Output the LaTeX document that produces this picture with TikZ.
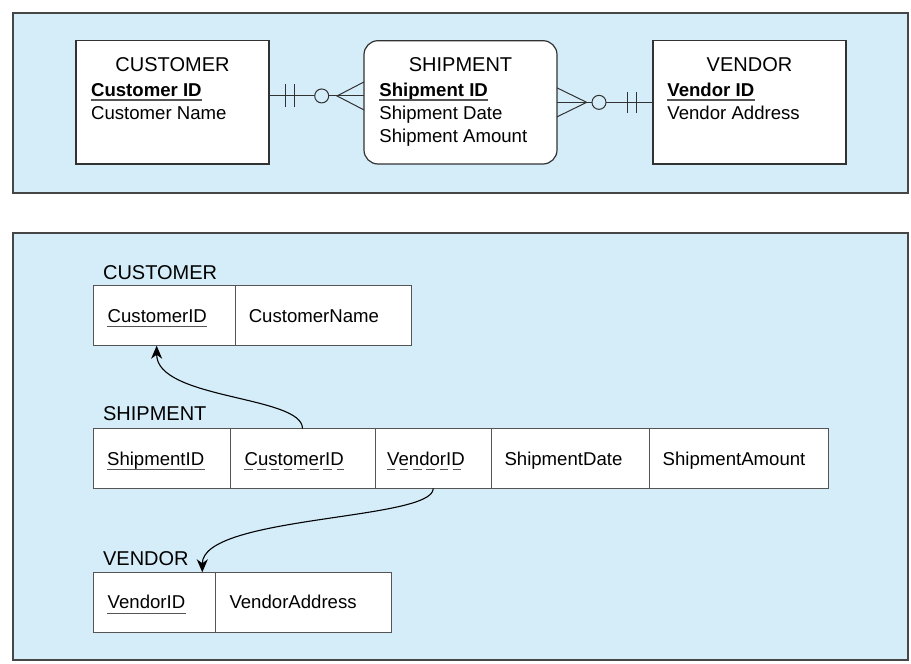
\documentclass[tikz,border=0pt]{standalone}
\usepackage{fontspec}
\setmainfont{Liberation Sans}
\usetikzlibrary{positioning,calc,arrows.meta}
\definecolor{panelblue}{RGB}{212,237,249}
\definecolor{boxline}{RGB}{50,50,50}
\definecolor{cellline}{RGB}{85,85,85}
\definecolor{panelline}{RGB}{70,70,70}
\begin{document}
\begin{tikzpicture}[x=0.5pt, y=-0.5pt,
    entity/.style = {draw=boxline, line width=0.6pt, fill=white,
      minimum width=96.5pt, minimum height=61.65pt, inner sep=0, outer sep=0},
    title/.style = {font=\fontsize{10}{12}\selectfont, inner sep=0, anchor=base},
    attr/.style = {font=\fontsize{9.3}{11}\selectfont, inner sep=0, anchor=base west},
    keyattr/.style = {attr, font=\fontsize{9.3}{11}\selectfont\bfseries},
    tablename/.style = {title, anchor=base west},
    cell/.style = {draw=cellline, line width=0.5pt, fill=white,
      minimum height=30pt, inner sep=0, outer sep=0, anchor=north west},
    uline/.style = {draw=cellline, line width=0.5pt},
    fk/.style = {uline, dash pattern=on 4.2pt off 2.4pt},
    erline/.style = {draw=boxline, line width=0.5pt},
    link/.style = {line width=0.55pt, -{Stealth[length=6.5pt,width=5.5pt,inset=2pt]}}]
  \useasboundingbox (0,0) rectangle (911,664);
  % panels
  \draw[panelline, line width=1pt, fill=panelblue] (12.7,12.7) rectangle (908.4,192.7);
  \draw[panelline, line width=1pt, fill=panelblue] (12.7,232.7) rectangle (908.4,660);

  % E-R diagram
  \node[entity] (cust) at (172.5,102.35) {};
  \node[entity, rounded corners=7pt, right=47.5pt of cust] (ship) {};
  \node[entity, right=48pt of ship] (vend) {};

  \node[title] (cust-t) at ([yshift=-15.3pt]cust.north) {CUSTOMER};
  \node[keyattr] (cust-k) at ([xshift=7.35pt,yshift=-27.65pt]cust.north west) {Customer ID};
  \node[attr] (cust-a1) at ([xshift=7.35pt,yshift=-39.15pt]cust.north west) {Customer Name};

  \node[title] (ship-t) at ([yshift=-15.3pt]ship.north) {SHIPMENT};
  \node[keyattr] (ship-k) at ([xshift=7.5pt,yshift=-27.65pt]ship.north west) {Shipment ID};
  \node[attr] (ship-a1) at ([xshift=7.5pt,yshift=-39.15pt]ship.north west) {Shipment Date};
  \node[attr] (ship-a2) at ([xshift=7.5pt,yshift=-50.65pt]ship.north west) {Shipment Amount};

  \node[title] (vend-t) at ([yshift=-15.3pt]vend.north) {VENDOR};
  \node[keyattr] (vend-k) at ([xshift=7pt,yshift=-27.65pt]vend.north west) {Vendor ID};
  \node[attr] (vend-a1) at ([xshift=7pt,yshift=-39.15pt]vend.north west) {Vendor Address};

  \foreach \k in {cust-k,ship-k,vend-k}
    \draw[uline, line width=0.65pt] ([yshift=-2pt]\k.base west) -- ([yshift=-2pt]\k.base east);

  % customer -- shipment
  \coordinate (ca) at ([yshift=3.2pt]cust.east);
  \coordinate (sa) at (ship.west |- ca);
  \draw[erline] (ca) -- (sa);
  \draw[erline] ($(ca)+(16,-11.5)$) -- ($(ca)+(16,11.5)$);
  \draw[erline] ($(ca)+(25,-11.5)$) -- ($(ca)+(25,11.5)$);
  \draw[erline, fill=panelblue] ($(sa)+(-42.3,0)$) circle[radius=3.5pt];
  \draw[erline] ($(sa)+(0,-14)$) -- ($(sa)+(-27,0)$) -- ($(sa)+(0,14)$);

  % shipment -- vendor
  \coordinate (sb) at (ship.east);
  \coordinate (vb) at (vend.west);
  \draw[erline] (sb) -- (vb);
  \draw[erline] ($(sb)+(0,-14.5)$) -- ($(sb)+(29.7,0)$) -- ($(sb)+(0,14.5)$);
  \draw[erline, fill=panelblue] ($(sb)+(42,0)$) circle[radius=3.5pt];
  \draw[erline] ($(vb)+(-25.3,-10.5)$) -- ($(vb)+(-25.3,10.5)$);
  \draw[erline] ($(vb)+(-16.3,-10.5)$) -- ($(vb)+(-16.3,10.5)$);

  % relations
  \node[cell, minimum width=70.85pt] (t-custid) at (93.3,285.7) {};
  \node[cell, minimum width=88pt, right=0pt of t-custid] (t-custname) {};
  \node[tablename] (n-cust) at ([xshift=4.7pt,yshift=3.3pt]t-custid.north west) {CUSTOMER};

  \node[cell, minimum width=68.35pt] (t-shipid) at (93.3,428.5) {};
  \node[cell, minimum width=72.5pt, right=0pt of t-shipid] (t-shipcust) {};
  \node[cell, minimum width=58.25pt, right=0pt of t-shipcust] (t-shipvend) {};
  \node[cell, minimum width=78.9pt, right=0pt of t-shipvend] (t-shipdate) {};
  \node[cell, minimum width=89.5pt, right=0pt of t-shipdate] (t-shipamt) {};
  \node[tablename] (n-ship) at ([xshift=4.7pt,yshift=4pt]t-shipid.north west) {SHIPMENT};

  \node[cell, minimum width=61.2pt] (t-vendid) at (93.3,572.3) {};
  \node[cell, minimum width=88pt, right=0pt of t-vendid] (t-vendaddr) {};
  \node[tablename] (n-vend) at ([xshift=4.7pt,yshift=3.3pt]t-vendid.north west) {VENDOR};

  \node[attr] (x-custid) at ([xshift=7pt,yshift=-3.25pt]t-custid.west) {CustomerID};
  \node[attr] (x-custname) at ([xshift=6.7pt,yshift=-3.25pt]t-custname.west) {CustomerName};
  \node[attr] (x-shipid) at ([xshift=6.7pt,yshift=-3.25pt]t-shipid.west) {ShipmentID};
  \node[attr] (x-shipcust) at ([xshift=7.1pt,yshift=-3.25pt]t-shipcust.west) {CustomerID};
  \node[attr] (x-shipvend) at ([xshift=5.9pt,yshift=-3.25pt]t-shipvend.west) {VendorID};
  \node[attr] (x-shipdate) at ([xshift=6.3pt,yshift=-3.25pt]t-shipdate.west) {ShipmentDate};
  \node[attr] (x-shipamt) at ([xshift=6.5pt,yshift=-3.25pt]t-shipamt.west) {ShipmentAmount};
  \node[attr] (x-vendid) at ([xshift=7pt,yshift=-3.25pt]t-vendid.west) {VendorID};
  \node[attr] (x-vendaddr) at ([xshift=6.7pt,yshift=-3.25pt]t-vendaddr.west) {VendorAddress};

  \foreach \k in {x-custid,x-shipid,x-vendid}
    \draw[uline] ([yshift=-2.3pt]\k.base west) -- ([yshift=-2.3pt]\k.base east);
  \foreach \k in {x-shipcust,x-shipvend}
    \draw[fk] ([yshift=-2.3pt]\k.base west) -- ([yshift=-2.3pt]\k.base east);

  % foreign keys
  \draw[link] (t-shipcust.north) .. controls +(0,-33) and +(0,54) .. ([xshift=-3.75pt]t-custid.south);
  \draw[link] (t-shipvend.south) .. controls +(0,32) and +(0,-57) .. ([xshift=-6.7pt]t-vendid.north east);
\end{tikzpicture}
\end{document}
